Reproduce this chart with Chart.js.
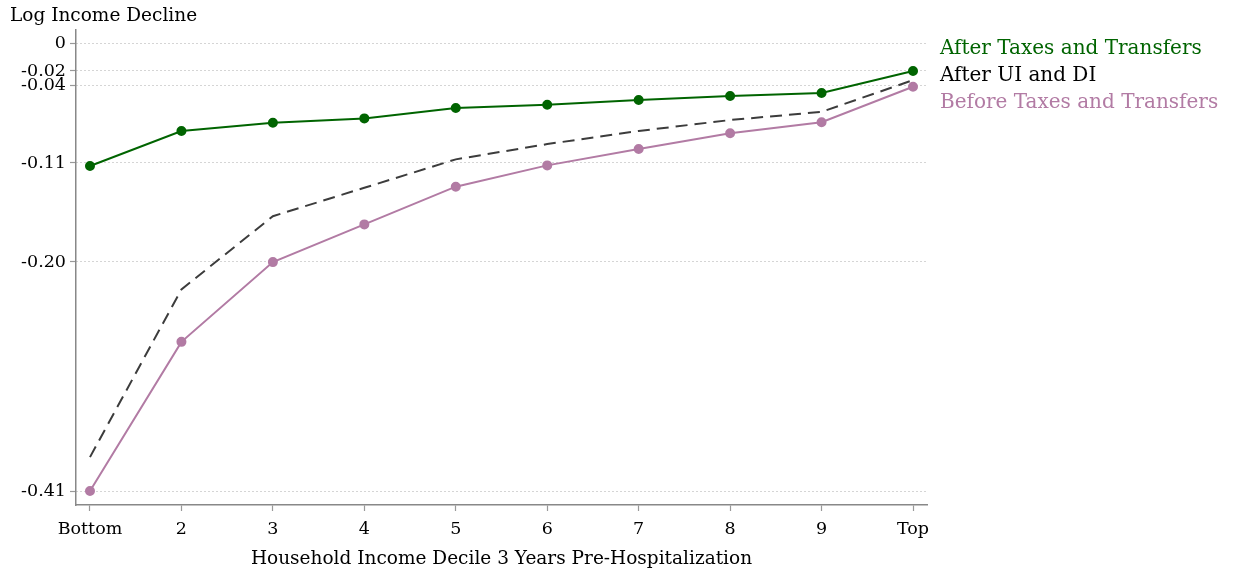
<!DOCTYPE html>
<html>
<head>
<meta charset="utf-8">
<script src="https://cdn.jsdelivr.net/npm/chart.js@4"></script>
<style>
  body { margin: 0; background: #fff; }
</style>
</head>
<body>
<canvas id="incomeChart" width="1240" height="574"></canvas>
<script>
const deciles = ["Bottom", "2", "3", "4", "5", "6", "7", "8", "9", "Top"];
const afterTaxes = [-0.1126, -0.0805, -0.0730, -0.0690, -0.0595, -0.0565, -0.0522, -0.0485, -0.0458, -0.0256];
const afterUIDI = [-0.3790, -0.2255, -0.1585, -0.1325, -0.1065, -0.0925, -0.0805, -0.0705, -0.0630, -0.0340];
const beforeTaxes = [-0.4100, -0.2735, -0.2005, -0.1660, -0.1315, -0.1120, -0.0970, -0.0826, -0.0725, -0.0400];
const yTickValues = [0, -0.0256, -0.0393, -0.1098, -0.2004, -0.41];
const yTickLabels = ["0", "-0.02", "-0.04", "-0.11", "-0.20", "-0.41"];

const serif = "'DejaVu Serif', 'Liberation Serif', serif";
const green = "#006400";
const pink = "#b27ba4";
const grey = "#3c3c3c";

function toPoints(arr) {
  return arr.map((v, i) => ({ x: i, y: v }));
}

// legend and y title drawn as text on the canvas
const textPlugin = {
  id: "textPlugin",
  afterDraw(chart) {
    const c = chart.ctx;
    c.save();
    c.textBaseline = "middle";
    c.textAlign = "left";
    c.font = "18.5px " + serif;
    c.fillStyle = "#000";
    c.fillText("Log Income Decline", 10, 16);
    const items = [
      ["After Taxes and Transfers", green],
      ["After UI and DI", "#000"],
      ["Before Taxes and Transfers", pink],
    ];
    c.font = "20px " + serif;
    items.forEach((it, i) => {
      c.fillStyle = it[1];
      c.fillText(it[0], 940, 49 + i * 27);
    });
    c.restore();
  },
};

const ctx = document.getElementById("incomeChart").getContext("2d");
new Chart(ctx, {
  type: "line",
  data: {
    datasets: [
      {
        label: "After Taxes and Transfers",
        data: toPoints(afterTaxes),
        borderColor: green,
        backgroundColor: green,
        borderWidth: 2,
        pointRadius: 4,
        pointHoverRadius: 4,
        fill: false,
      },
      {
        label: "After UI and DI",
        data: toPoints(afterUIDI),
        borderColor: grey,
        borderWidth: 2,
        borderDash: [12, 7],
        pointRadius: 0,
        fill: false,
      },
      {
        label: "Before Taxes and Transfers",
        data: toPoints(beforeTaxes),
        borderColor: pink,
        backgroundColor: pink,
        borderWidth: 2,
        pointRadius: 4,
        pointHoverRadius: 4,
        fill: false,
      },
    ],
  },
  options: {
    responsive: false,
    animation: false,
    maintainAspectRatio: false,
    layout: { padding: { top: 30, right: 313, left: 0, bottom: 0 } },
    plugins: {
      legend: { display: false },
      tooltip: { enabled: false },
    },
    scales: {
      x: {
        type: "linear",
        min: -0.153,
        max: 9.153,
        afterBuildTicks: (scale) => {
          scale.ticks = deciles.map((d, i) => ({ value: i }));
        },
        afterFit: (scale) => {
          scale.height = 69;
        },
        ticks: {
          callback: (v) => deciles[v],
          color: "#000",
          font: { family: serif, size: 17.5 },
          padding: 8,
          maxRotation: 0,
          autoSkip: false,
        },
        grid: {
          drawOnChartArea: false,
          drawTicks: true,
          tickLength: 6,
          tickColor: "#999",
          tickWidth: 1.2,
        },
        border: { color: "#888", width: 1.5 },
        title: {
          display: true,
          text: "Household Income Decile 3 Years Pre-Hospitalization",
          color: "#000",
          font: { family: serif, size: 18.5 },
          padding: { top: 2 },
        },
      },
      y: {
        min: -0.4228,
        max: 0.0119,
        afterBuildTicks: (scale) => {
          scale.ticks = yTickValues.map((v) => ({ value: v }));
        },
        afterFit: (scale) => {
          scale.width = 76;
        },
        ticks: {
          callback: (v) => yTickLabels[yTickValues.indexOf(v)],
          color: "#000",
          font: { family: serif, size: 17.5 },
          padding: 4,
          autoSkip: false,
        },
        grid: {
          color: "#aaa",
          tickBorderDash: [],
          tickColor: "#999",
          tickWidth: 1.2,
          tickLength: 6,
          lineWidth: 1,
        },
        border: { color: "#888", width: 1.5, dash: [1, 3] },
      },
    },
  },
  plugins: [textPlugin],
});
</script>
</body>
</html>
